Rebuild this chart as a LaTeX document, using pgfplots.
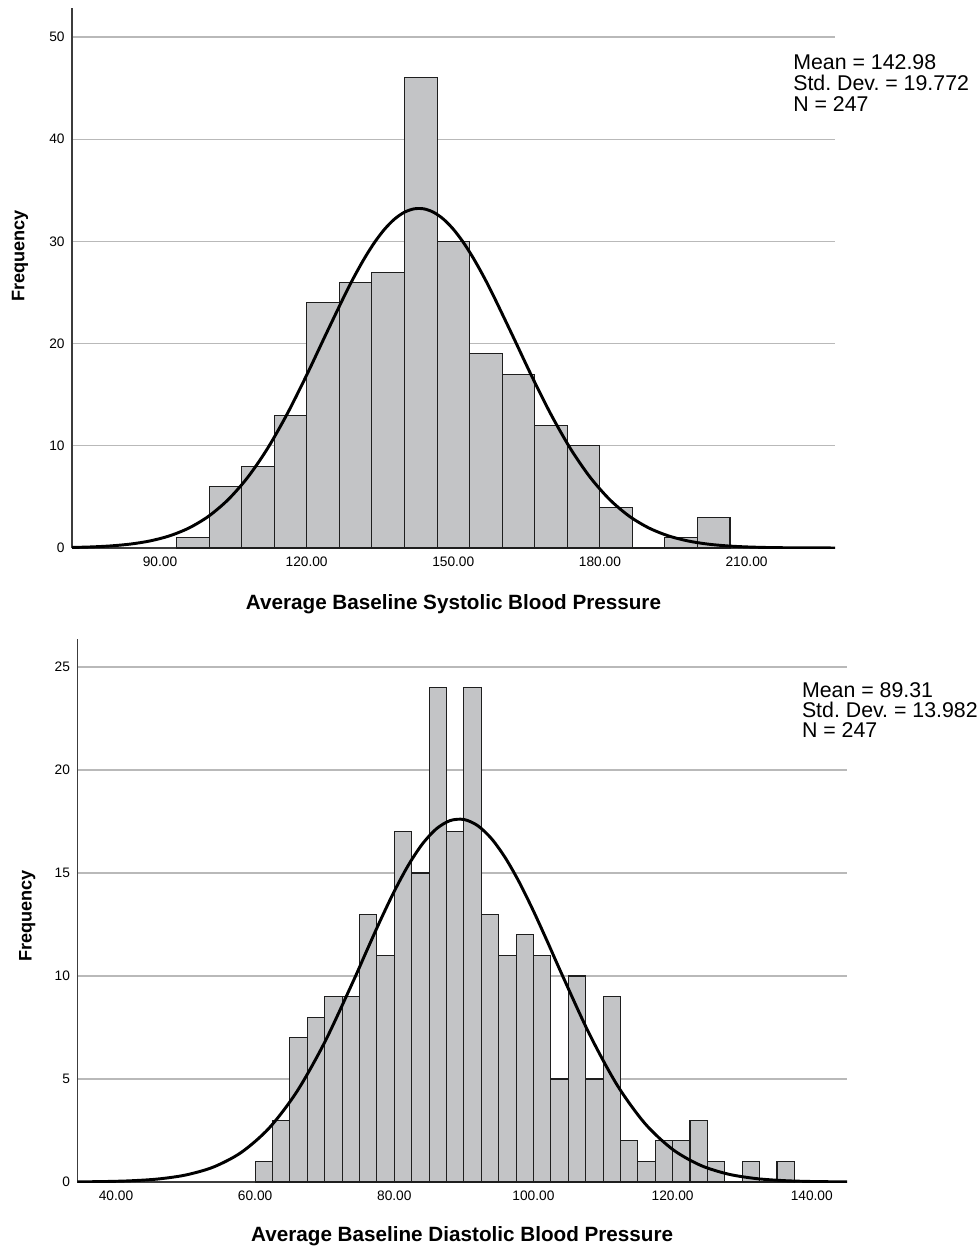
\documentclass[border=0pt]{standalone}
\usepackage{pgfplots}
\pgfplotsset{compat=1.18}
\usepackage{fontspec}
\setmainfont{Liberation Sans}
\frenchspacing

\definecolor{barfill}{RGB}{195,196,198}
\definecolor{baredge}{RGB}{30,30,30}
\definecolor{gridgray}{RGB}{185,185,185}
\definecolor{axisgray}{RGB}{60,60,60}

\newcommand\statfont{\fontsize{16}{17}\selectfont}

\pgfplotsset{
  spss/.style={
    scale only axis,
    anchor=south west,
    axis x line*=bottom,
    axis y line*=left,
    axis line style={axisgray, line width=0.9pt, -},
    ymajorgrids,
    grid style={gridgray, line width=0.9pt},
    major tick length=0pt,
    tick style={draw=none},
    tick label style={font=\fontsize{10.3}{12}\selectfont},
    /pgf/number format/assume math mode=true,
    xticklabel style={yshift=-3pt},
    yticklabel style={xshift=-2pt},
    xlabel style={font=\bfseries\fontsize{15.5}{18}\selectfont},
    ylabel style={font=\bfseries\fontsize{13.6}{16}\selectfont},
    ymin=0,
  },
  bars/.style={ybar interval, fill=barfill, draw=baredge, line width=0.8pt},
  curve/.style={smooth, black, line width=2.2pt},
}

\begin{document}
\begin{tikzpicture}
\useasboundingbox (0pt,0pt) rectangle (732.75pt,-936.75pt);

% systolic
\begin{axis}[spss,
  at={(54pt,-411pt)},
  width=572.25pt, height=405pt,
  xmin=72.0, xmax=228.1, ymax=52.84,
  xtick={90,120,150,180,210},
  xticklabels={90.00,120.00,150.00,180.00,210.00},
  ytick={0,10,20,30,40,50},
  xlabel={Average Baseline Systolic Blood Pressure},
  xlabel style={at={(axis description cs:0.5,0)}, anchor=center, yshift=-42pt},
  ylabel={Frequency},
  ylabel style={at={(axis description cs:0,0.541)}, anchor=center, yshift=39pt},
]
\addplot[bars] coordinates {
  (93.40,1) (100.06,6) (106.72,8) (113.38,13) (120.04,24) (126.70,26)
  (133.36,27) (140.02,46) (146.68,30) (153.34,19) (160.00,17) (166.66,12)
  (173.32,10) (179.98,4) (186.64,0) (193.30,1) (199.96,3) (206.62,0)
};
\addplot[curve] coordinates {
  (72,0.053) (76,0.107) (80,0.208) (84,0.388) (88,0.696) (92,1.196)
  (96,1.974) (100,3.129) (104,4.760) (108,6.947) (112,9.736) (116,13.098)
  (120,16.912) (124,20.963) (128,24.940) (130,26.789) (132,28.481)
  (134,29.974) (136,31.223) (138,32.193) (140,32.855) (142,33.189)
  (144,33.186) (146,32.845) (148,32.176) (150,31.201) (152,29.946)
  (154,28.450) (156,26.754) (158,24.900) (162,20.921) (166,16.872)
  (170,13.061) (174,9.706) (178,6.922) (182,4.741) (186,3.115) (190,1.965)
  (194,1.190) (198,0.692) (202,0.386) (206,0.207) (210,0.106) (214,0.052)
  (218,0.025) (222,0.011) (228.1,0.003)
};
\end{axis}

% diastolic
\begin{axis}[spss,
  at={(57.98pt,-886.5pt)},
  width=577.3pt, height=407.25pt,
  xmin=34.44, xmax=145.07, ymax=26.36,
  xtick={40,60,80,100,120,140},
  xticklabels={40.00,60.00,80.00,100.00,120.00,140.00},
  ytick={0,5,10,15,20,25},
  xlabel={Average Baseline Diastolic Blood Pressure},
  xlabel style={at={(axis description cs:0.5,0)}, anchor=center, yshift=-40.5pt},
  ylabel={Frequency},
  ylabel style={at={(axis description cs:0,0.49)}, anchor=center, yshift=37.5pt},
]
\addplot[bars] coordinates {
  (60,1) (62.5,3) (65,7) (67.5,8) (70,9) (72.5,9) (75,13) (77.5,11)
  (80,17) (82.5,15) (85,24) (87.5,17) (90,24) (92.5,13) (95,11) (97.5,12)
  (100,11) (102.5,5) (105,10) (107.5,5) (110,9) (112.5,2) (115,1)
  (117.5,2) (120,2) (122.5,3) (125,1) (127.5,0) (130,1) (132.5,0)
  (135,1) (137.5,0)
};
\addplot[curve] coordinates {
  (34.44,0.008) (38,0.021) (42,0.058) (46,0.145) (50,0.339) (54,0.726)
  (58,1.436) (62,2.616) (66,4.390) (70,6.789) (74,9.675) (76,11.200)
  (78,12.703) (80,14.116) (82,15.369) (84,16.394) (86,17.133) (88,17.543)
  (90,17.599) (92,17.297) (94,16.656) (96,15.714) (98,14.526) (100,13.154)
  (102,11.672) (104,10.147) (108,7.211) (112,4.722) (116,2.849)
  (120,1.584) (124,0.812) (128,0.383) (132,0.167) (136,0.067)
  (140,0.025) (145.07,0.006)
};
\end{axis}

\node[anchor=base west, inner sep=0pt, font=\statfont] at (594.75pt,-51.98pt) {Mean = 142.98};
\node[anchor=base west, inner sep=0pt, font=\statfont] at (594.75pt,-68.03pt) {Std. Dev. = 19.772};
\node[anchor=base west, inner sep=0pt, font=\statfont] at (594.75pt,-83.25pt) {N = 247};

\node[anchor=base west, inner sep=0pt, font=\statfont] at (601.3pt,-523.3pt) {Mean = 89.31};
\node[anchor=base west, inner sep=0pt, font=\statfont] at (601.3pt,-538.3pt) {Std. Dev. = 13.982};
\node[anchor=base west, inner sep=0pt, font=\statfont] at (601.3pt,-553.0pt) {N = 247};
\end{tikzpicture}
\end{document}
